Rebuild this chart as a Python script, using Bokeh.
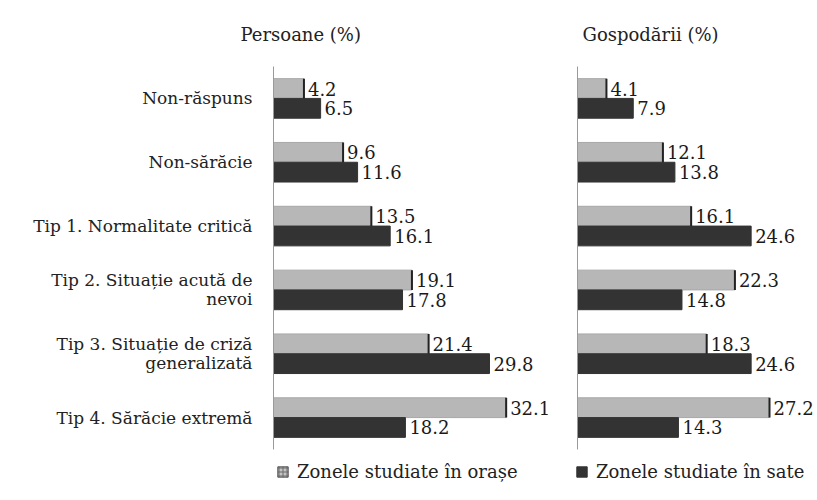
from bokeh.plotting import figure
from bokeh.models import FactorRange, Range1d, ColumnDataSource, Legend, LegendItem
from bokeh.transform import dodge
from bokeh.layouts import row, column
from bokeh.embed import file_html
from bokeh.resources import INLINE

categories = [
    "Non-răspuns",
    "Non-sărăcie",
    "Tip 1. Normalitate critică",
    "Tip 2. Situație acută de\nnevoi",
    "Tip 3. Situație de criză\ngeneralizată",
    "Tip 4. Sărăcie extremă",
]
persoane_orase = [4.2, 9.6, 13.5, 19.1, 21.4, 32.1]
persoane_sate = [6.5, 11.6, 16.1, 17.8, 29.8, 18.2]
gospodarii_orase = [4.1, 12.1, 16.1, 22.3, 18.3, 27.2]
gospodarii_sate = [7.9, 13.8, 24.6, 14.8, 24.6, 14.3]
panel_titles = ["Persoane (%)", "Gospodării (%)"]
series_labels = ["Zonele studiate în orașe", "Zonele studiate în sate"]

FONT = "DejaVu Serif"
LIGHT = "#b7b7b7"
DARK = "#333333"
BAR_H = 0.31
MAIN_H = 455


def make_panel(title, orase, sate, width, border_left, x_end, title_offset,
               show_labels):
    p = figure(
        width=width, height=MAIN_H,
        y_range=FactorRange(factors=list(reversed(categories)), range_padding=0),
        x_range=Range1d(0, x_end),
        output_backend="svg", toolbar_location=None,
        min_border_left=border_left, min_border_right=0,
        min_border_top=65, min_border_bottom=6,
    )
    src = ColumnDataSource(dict(
        cat=categories,
        orase=orase,
        sate=sate,
        orase_txt=[f"{v:.1f}" for v in orase],
        sate_txt=[f"{v:.1f}" for v in sate],
    ))
    p.hbar(y=dodge("cat", BAR_H / 2, range=p.y_range), right="orase", left=0,
           height=BAR_H, source=src, fill_color=LIGHT,
           line_color="#a8a8a8", line_width=1)
    p.hbar(y=dodge("cat", -BAR_H / 2, range=p.y_range), right="sate", left=0,
           height=BAR_H, source=src, fill_color=DARK,
           line_color=DARK, line_width=1)
    p.segment(x0="orase", x1="orase",
              y0=dodge("cat", 0.0, range=p.y_range),
              y1=dodge("cat", BAR_H, range=p.y_range),
              source=src, line_color="#222222", line_width=2)
    p.text(x="orase", y=dodge("cat", BAR_H / 2, range=p.y_range), text="orase_txt",
           source=src, x_offset=4, text_baseline="middle", text_align="left",
           text_font={"value": FONT}, text_font_size="18px", text_color="#1a1a1a")
    p.text(x="sate", y=dodge("cat", -BAR_H / 2, range=p.y_range), text="sate_txt",
           source=src, x_offset=4, text_baseline="middle", text_align="left",
           text_font={"value": FONT}, text_font_size="18px", text_color="#1a1a1a")

    p.title.text = title
    p.title.align = "left"
    p.title.offset = title_offset
    p.title.standoff = 43
    p.title.text_font = FONT
    p.title.text_font_size = "18px"
    p.title.text_font_style = "normal"
    p.title.text_color = "#222222"

    p.xaxis.visible = False
    p.xgrid.visible = False
    p.ygrid.visible = False
    p.outline_line_color = None

    ax = p.yaxis[0]
    ax.axis_line_color = "#9a9a9a"
    ax.axis_line_width = 1
    ax.major_tick_line_color = None
    ax.minor_tick_line_color = None
    ax.major_tick_out = 0
    ax.major_tick_in = 0
    if show_labels:
        ax.major_label_text_font = FONT
        ax.major_label_text_font_size = "17px"
        ax.major_label_text_color = "#222222"
        ax.major_label_text_line_height = 0.95
        ax.major_label_standoff = 21
    else:
        ax.major_label_text_font_size = "1px"
        ax.major_label_text_alpha = 0
        ax.major_label_standoff = 0
    return p


p1 = make_panel(panel_titles[0], persoane_orase, persoane_sate,
                width=568, border_left=273, x_end=40.7, title_offset=-33,
                show_labels=True)
p2 = make_panel(panel_titles[1], gospodarii_orase, gospodarii_sate,
                width=249, border_left=9, x_end=34.0, title_offset=5,
                show_labels=False)

# legend strip (keys only; their single key entry lies outside the visible range)
leg = figure(width=817, height=500 - MAIN_H, x_range=Range1d(0, 1), y_range=Range1d(0, 1),
             output_backend="svg", toolbar_location=None,
             min_border_left=0, min_border_right=0, min_border_top=0, min_border_bottom=0)
leg.axis.visible = False
leg.grid.visible = False
leg.outline_line_color = None
key_src = ColumnDataSource(dict(y=[-5.0], right=[0.0]))
k_light = leg.hbar(y="y", right="right", left=0, height=0.1, source=key_src,
                   fill_color="#c4c4c4", line_color="#555555", line_width=1,
                   hatch_pattern="+", hatch_color="#6a6a6a", hatch_scale=4, hatch_weight=1)
k_dark = leg.hbar(y="y", right="right", left=0, height=0.1, source=key_src,
                  fill_color=DARK, line_color=DARK, line_width=1)
for rend, label, lx in [(k_light, series_labels[0], 276), (k_dark, series_labels[1], 575)]:
    lg = Legend(
        items=[LegendItem(label=label, renderers=[rend])],
        location=(lx, 18), orientation="horizontal",
        margin=0, padding=2, spacing=0,
        glyph_width=13, glyph_height=13, label_height=20,
        label_standoff=8,
        label_text_font=FONT, label_text_font_size="18px",
        label_text_color="#222222",
        border_line_color=None, background_fill_alpha=0,
    )
    leg.add_layout(lg)

layout = column(row(p1, p2), leg)
open("out.html", "w").write(file_html(layout, INLINE))
